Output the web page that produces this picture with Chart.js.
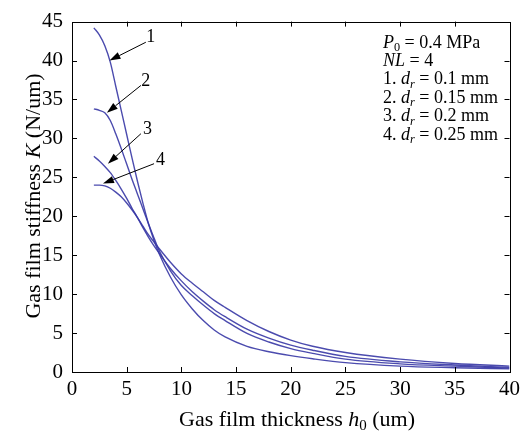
<!DOCTYPE html>
<html>
<head>
<meta charset="utf-8">
<script src="https://cdn.jsdelivr.net/npm/chart.js@4.4.1/dist/chart.umd.min.js"></script>
<style>
  html, body { margin: 0; padding: 0; background: #ffffff; }
  #wrap { width: 525px; height: 432px; position: relative; }
</style>
</head>
<body>
<div id="wrap"><canvas id="c" width="525" height="432"></canvas></div>
<script>
// Gas film thickness h0 (um) sample points
const thickness = [2, 2.5, 3, 3.5, 4, 4.5, 5, 5.5, 6, 6.5, 7, 7.5, 8, 9, 10, 11, 12, 13, 14, 16, 18, 20, 22, 25, 30, 35, 40];

// Gas film stiffness K (N/um) for each orifice diameter
const stiffnessDr010 = [44.2, 43.3, 41.9, 39.8, 36.7, 33.6, 30.5, 27.4, 24.4, 21.6, 19.0, 16.9, 15.1, 12.2, 9.9, 8.1, 6.6, 5.4, 4.5, 3.3, 2.6, 2.1, 1.7, 1.2, 0.75, 0.55, 0.4];
const stiffnessDr015 = [33.8, 33.6, 33.3, 32.3, 30.6, 28.7, 26.7, 24.7, 22.8, 20.9, 19.0, 17.2, 15.5, 13.0, 11.1, 9.8, 8.6, 7.5, 6.6, 4.95, 3.85, 3.0, 2.4, 1.65, 1.05, 0.75, 0.5];
const stiffnessDr020 = [27.7, 27.1, 26.4, 25.6, 24.6, 23.5, 22.3, 21.0, 19.8, 18.5, 17.3, 16.2, 15.2, 13.3, 11.7, 10.3, 9.1, 8.0, 7.1, 5.5, 4.35, 3.45, 2.8, 2.0, 1.3, 0.9, 0.6];
const stiffnessDr025 = [24.0, 24.0, 23.9, 23.6, 23.1, 22.5, 21.7, 20.8, 19.8, 18.7, 17.6, 16.7, 15.8, 14.1, 12.6, 11.4, 10.3, 9.2, 8.3, 6.6, 5.2, 4.1, 3.3, 2.5, 1.65, 1.1, 0.75];

const curveLabels = ['1', '2', '3', '4'];
const curveSeries = [stiffnessDr010, stiffnessDr015, stiffnessDr020, stiffnessDr025];

// Axis ranges and tick steps
const xRange = [0, 40];
const yRange = [0, 45];
const tickStep = 5;

// Callout arrows (data units): label position, tail and head
const callouts = [
  { label: '1', text: [7.2, 43.0], tail: [6.75, 42.35], head: [3.43, 40.0] },
  { label: '2', text: [6.75, 37.4], tail: [6.3, 36.8], head: [3.19, 33.3] },
  { label: '3', text: [6.9, 31.2], tail: [6.3, 30.6], head: [3.28, 26.75] },
  { label: '4', text: [8.1, 27.2], tail: [7.5, 26.75], head: [2.83, 24.2] }
];

const SERIF = '"Liberation Serif", "Times New Roman", serif';
const LINE_COLOR = 'rgba(55, 55, 165, 0.9)';

const datasets = curveSeries.map((vals, i) => ({
  label: curveLabels[i],
  data: thickness.map((h, j) => ({ x: h, y: vals[j] })),
  borderColor: LINE_COLOR,
  borderWidth: 1.4,
  pointRadius: 0,
  fill: false,
  cubicInterpolationMode: 'monotone'
}));

// Draw a run of text pieces with mixed styles, centred or left-aligned
function drawRich(ctx, pieces, x, y, size, align) {
  const fontFor = p => (p.italic ? 'italic ' : '') + (p.sub ? size * 0.68 : size) + 'px ' + SERIF;
  const total = pieces.reduce((acc, p) => { ctx.font = fontFor(p); return acc + ctx.measureText(p.t).width; }, 0);
  let cx = align === 'center' ? x - total / 2 : x;
  ctx.textAlign = 'left';
  ctx.textBaseline = 'alphabetic';
  pieces.forEach(p => {
    ctx.font = fontFor(p);
    ctx.fillText(p.t, cx, y + (p.sub ? size * 0.2 : 0));
    cx += ctx.measureText(p.t).width;
  });
}

const decorations = {
  id: 'decorations',
  afterDraw(chart) {
    const ctx = chart.ctx;
    const xs = chart.scales.x, ys = chart.scales.y;
    const a = chart.chartArea;
    ctx.save();
    ctx.strokeStyle = '#000';
    ctx.fillStyle = '#000';
    ctx.lineWidth = 1;

    // Frame
    ctx.strokeRect(Math.round(a.left) + 0.5, Math.round(a.top) + 0.5,
      Math.round(a.right - a.left), Math.round(a.bottom - a.top));

    // Inward tick marks on all four sides
    const tl = 5;
    ctx.beginPath();
    for (let v = xRange[0] + tickStep; v < xRange[1]; v += tickStep) {
      const px = Math.round(xs.getPixelForValue(v)) + 0.5;
      ctx.moveTo(px, a.bottom); ctx.lineTo(px, a.bottom - tl);
      ctx.moveTo(px, a.top); ctx.lineTo(px, a.top + tl);
    }
    for (let v = yRange[0] + tickStep; v < yRange[1]; v += tickStep) {
      const py = Math.round(ys.getPixelForValue(v)) + 0.5;
      ctx.moveTo(a.left, py); ctx.lineTo(a.left + tl, py);
      ctx.moveTo(a.right, py); ctx.lineTo(a.right - tl, py);
    }
    ctx.stroke();

    // Axis titles
    drawRich(ctx, [
      { t: 'Gas film thickness ' }, { t: 'h', italic: true }, { t: '0', sub: true }, { t: ' (um)' }
    ], 297, 426, 22, 'center');

    ctx.save();
    ctx.translate(40, 196);
    ctx.rotate(-Math.PI / 2);
    drawRich(ctx, [
      { t: 'Gas film stiffness ' }, { t: 'K', italic: true }, { t: ' (N/um)' }
    ], 0, 0, 22, 'center');
    ctx.restore();

    // Callout arrows with curve numbers
    callouts.forEach(c => {
      const x1 = xs.getPixelForValue(c.tail[0]), y1 = ys.getPixelForValue(c.tail[1]);
      const x2 = xs.getPixelForValue(c.head[0]), y2 = ys.getPixelForValue(c.head[1]);
      const ang = Math.atan2(y2 - y1, x2 - x1);
      const hl = 11, hw = 3.6;
      const bx = x2 - hl * Math.cos(ang), by = y2 - hl * Math.sin(ang);
      ctx.beginPath();
      ctx.moveTo(x1, y1); ctx.lineTo(bx, by);
      ctx.stroke();
      ctx.beginPath();
      ctx.moveTo(x2, y2);
      ctx.lineTo(bx + hw * Math.sin(ang), by - hw * Math.cos(ang));
      ctx.lineTo(bx - hw * Math.sin(ang), by + hw * Math.cos(ang));
      ctx.closePath();
      ctx.fill();
      ctx.font = '18px ' + SERIF;
      ctx.textAlign = 'center';
      ctx.textBaseline = 'middle';
      ctx.fillText(c.label, xs.getPixelForValue(c.text[0]), ys.getPixelForValue(c.text[1]));
    });

    // Parameter notes
    const tx = 383, ty0 = 47.5, lh = 18.4, fs = 18;
    const notes = [
      [{ t: 'P', italic: true }, { t: '0', sub: true }, { t: ' = 0.4 MPa' }],
      [{ t: 'NL', italic: true }, { t: ' = 4' }],
      [{ t: '1. ' }, { t: 'd', italic: true }, { t: 'r', italic: true, sub: true }, { t: ' = 0.1 mm' }],
      [{ t: '2. ' }, { t: 'd', italic: true }, { t: 'r', italic: true, sub: true }, { t: ' = 0.15 mm' }],
      [{ t: '3. ' }, { t: 'd', italic: true }, { t: 'r', italic: true, sub: true }, { t: ' = 0.2 mm' }],
      [{ t: '4. ' }, { t: 'd', italic: true }, { t: 'r', italic: true, sub: true }, { t: ' = 0.25 mm' }]
    ];
    notes.forEach((n, i) => drawRich(ctx, n, tx, ty0 + i * lh, fs, 'left'));

    ctx.restore();
  }
};

new Chart(document.getElementById('c'), {
  type: 'line',
  data: { datasets },
  options: {
    responsive: false,
    animation: false,
    events: [],
    layout: { padding: { top: 21, right: 10, left: 0, bottom: 0 } },
    plugins: { legend: { display: false }, tooltip: { enabled: false } },
    scales: {
      x: {
        type: 'linear',
        min: xRange[0], max: xRange[1],
        ticks: { stepSize: tickStep, padding: 5, color: '#000', font: { family: SERIF, size: 21 }, maxRotation: 0 },
        grid: { display: false, drawTicks: false },
        border: { display: false },
        afterFit: s => { s.height = 60; }
      },
      y: {
        type: 'linear',
        min: yRange[0], max: yRange[1],
        ticks: { stepSize: tickStep, padding: 9, color: '#000', font: { family: SERIF, size: 21 } },
        grid: { display: false, drawTicks: false },
        border: { display: false },
        afterFit: s => { s.width = 72; }
      }
    }
  },
  plugins: [decorations]
});
</script>
</body>
</html>
